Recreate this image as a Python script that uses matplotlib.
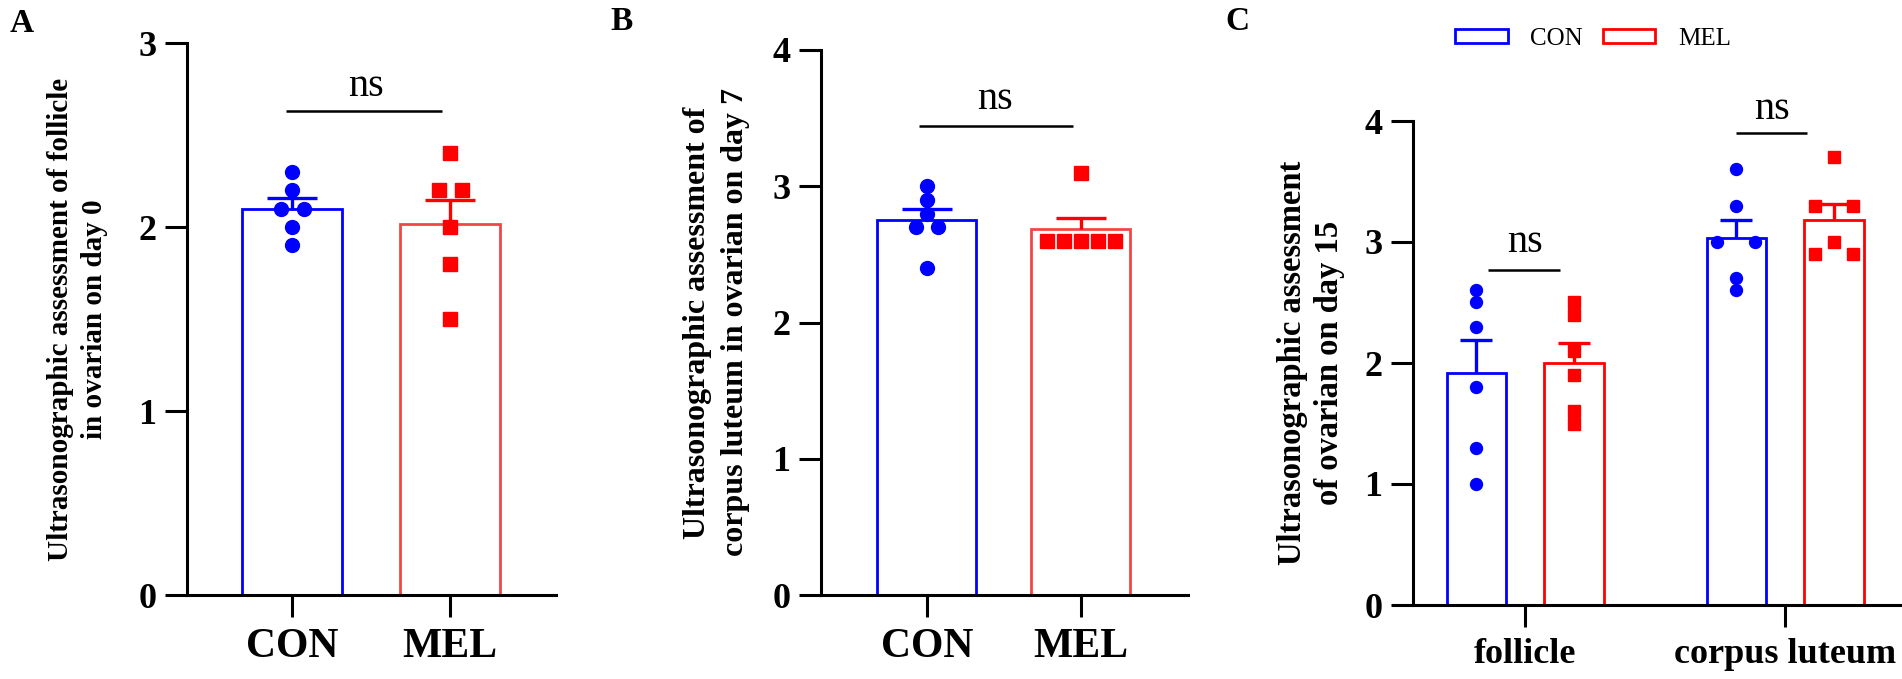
import numpy as np
import matplotlib
matplotlib.use("Agg")
import matplotlib.pyplot as plt
from matplotlib.patches import Patch

plt.rcParams['font.family'] = ['Liberation Serif', 'DejaVu Serif']
plt.rcParams['font.weight'] = 'bold'

BLUE = '#0000FF'; RED = '#FF0000'; RED_SOFT = '#F24646'

groups = ['CON', 'MEL']
# A: follicle, day 0
a_con = [2.3, 2.2, 2.1, 2.1, 2.0, 1.9]
a_mel = [2.4, 2.2, 2.2, 2.0, 1.8, 1.5]
# B: corpus luteum, day 7
b_con = [3.0, 2.9, 2.8, 2.7, 2.7, 2.4]
b_mel = [3.1, 2.6, 2.6, 2.6, 2.6, 2.6]
# C: day 15
c_cats = ['follicle', 'corpus luteum']
c_con = [[2.6, 2.5, 2.3, 1.8, 1.3, 1.0], [3.6, 3.3, 3.0, 3.0, 2.7, 2.6]]
c_mel = [[2.5, 2.4, 2.1, 1.9, 1.6, 1.5], [3.7, 3.3, 3.3, 3.0, 2.9, 2.9]]

ylab_a = 'Ultrasonographic assessment of follicle\nin ovarian on day 0'
ylab_b = 'Ultrasonographic assessment of\ncorpus luteum in ovarian on day 7'
ylab_c = 'Ultrasonographic assessment\nof ovarian on day 15'


def spread(vals, step, maxw=0.44):
    # same values side by side, like the prism scatter
    vals = np.asarray(vals); off = np.zeros(len(vals))
    for v in np.unique(vals):
        idx = np.where(np.isclose(vals, v))[0]
        n = len(idx)
        if n < 2: continue
        st = min(step, maxw / (n - 1))
        off[idx] = (np.arange(n) - (n - 1) / 2) * st
    return off


def group(ax, x, vals, color, edge, marker, width, ms, step, cap):
    vals = np.asarray(vals, float)
    m = vals.mean(); se = vals.std(ddof=1) / np.sqrt(len(vals))
    ax.bar(x, m, width, facecolor='white', edgecolor=edge, lw=2.0, zorder=2)
    ax.vlines(x, m, m + se, color=color, lw=2.4, zorder=3)
    ax.hlines(m + se, x - cap / 2, x + cap / 2, color=color, lw=2.4, zorder=3)
    ax.plot(x + spread(vals, step), vals, ls='none', marker=marker, ms=ms,
            color=color, mec=color, zorder=4)


def style(ax, ymax, xl):
    ax.set_ylim(0, ymax); ax.set_xlim(*xl)
    ax.set_yticks(range(ymax + 1))
    for s in ['top', 'right']: ax.spines[s].set_visible(False)
    for s in ['left', 'bottom']: ax.spines[s].set_linewidth(2.2)
    ax.tick_params(axis='both', length=16, width=2.2, labelsize=26, pad=6)
    ax.tick_params(axis='x', labelsize=30, pad=8)


def ns(ax, x0, x1, y, ty, tx):
    ax.plot([x0, x1], [y, y], color='k', lw=1.8, solid_capstyle='butt', clip_on=False)
    ax.text(tx, ty, 'ns', ha='center', va='baseline', fontsize=29, fontweight='normal', clip_on=False)


fig = plt.figure(figsize=(19.02, 6.79), dpi=100)
W, H = 1902, 679

# ---- A ----
axA = fig.add_axes([187 / W, 1 - 595 / H, (556 - 187) / W, (595 - 43) / H])
x = np.arange(len(groups))
group(axA, x[0], a_con, BLUE, BLUE, 'o', 0.633, 10, 0.145, 0.32)
group(axA, x[1], a_mel, RED, RED_SOFT, 's', 0.633, 9.5, 0.145, 0.32)
style(axA, 3, (-0.665, 1.67))
axA.set_xticks(x, groups)
axA.set_ylabel(ylab_a, fontsize=21, fontweight='bold', labelpad=22, linespacing=1.3)
ns(axA, -0.04, 0.95, 2.63, 2.71, 0.47)

# ---- B ----
axB = fig.add_axes([821 / W, 1 - 595 / H, (1188 - 821) / W, (595 - 50) / H])
group(axB, x[0], b_con, BLUE, BLUE, 'o', 0.643, 10, 0.145, 0.32)
group(axB, x[1], b_mel, RED, RED_SOFT, 's', 0.643, 9.5, 0.11, 0.32)
style(axB, 4, (-0.688, 1.695))
axB.set_xticks(x, groups)
axB.set_ylabel(ylab_b, fontsize=23, fontweight='bold', labelpad=16, linespacing=1.4)
ns(axB, -0.05, 0.95, 3.445, 3.57, 0.44)

# ---- C ----
axC = fig.add_axes([1413 / W, 1 - 605 / H, (1900 - 1413) / W, (605 - 121) / H])
xc = np.arange(len(c_cats)); off = 0.187
for i in range(len(c_cats)):
    group(axC, xc[i] - off, c_con[i], BLUE, BLUE, 'o', 0.23, 8.6, 0.146, 0.123)
    group(axC, xc[i] + off, c_mel[i], RED, RED, 's', 0.23, 8.6, 0.146, 0.123)
style(axC, 4, (-0.431, 1.442))
axC.set_xticks(xc, c_cats)
axC.tick_params(axis='x', labelsize=26)
axC.set_ylabel(ylab_c, fontsize=23.5, fontweight='bold', labelpad=14, linespacing=1.25)
ns(axC, -0.143, 0.135, 2.77, 2.92, 0.0)
ns(axC, 1 - 0.19, 1 + 0.085, 3.90, 4.02, 1 - 0.05)

# legend + panel letters
handles = [Patch(facecolor='white', edgecolor=BLUE, lw=2, label='CON'),
           Patch(facecolor='white', edgecolor=RED, lw=2, label='MEL')]
fig.legend(handles=handles, loc='center', bbox_to_anchor=(1593 / W, 1 - 39 / H), ncol=2,
           frameon=False, handlelength=2.1, handleheight=0.5, handletextpad=0.9,
           columnspacing=0.8, prop={'size': 18, 'weight': 'normal'})
for lab, px, py in [('A', 22, 24), ('B', 622, 22), ('C', 1237, 22)]:
    fig.text(px / W, 1 - py / H, lab, ha='center', va='center', fontsize=24, fontweight='bold')

fig.savefig('out.png', dpi=100)
